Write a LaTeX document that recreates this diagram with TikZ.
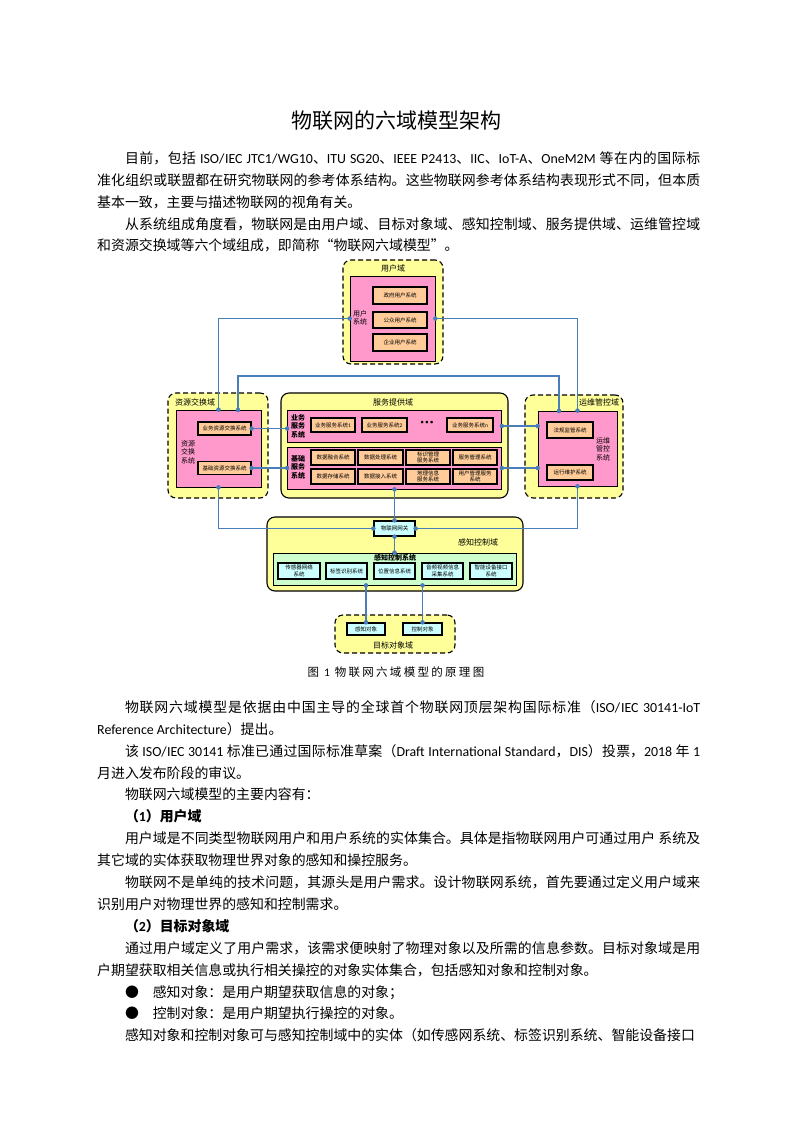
\documentclass[tikz,border=0pt]{standalone}
\usepackage{fontspec}
\setmainfont{Noto Sans CJK SC}
\newfontfamily\lat{Carlito}
\newfontfamily\capfont[LetterSpace=20]{Noto Sans CJK SC}
\XeTeXlinebreaklocale "zh"
\XeTeXlinebreakskip=0pt plus 1pt
\definecolor{domyellow}{HTML}{FFFF99}
\definecolor{syspink}{HTML}{FF99CC}
\definecolor{subpeach}{HTML}{FFCC99}
\definecolor{devcyan}{HTML}{CCFFFF}
\definecolor{senggreen}{HTML}{CCFFCC}
\definecolor{linkblue}{HTML}{4A7EBB}

\begin{document}
\begin{tikzpicture}[x=1pt,y=-1pt,
  every node/.style={inner sep=0pt},
  domzone/.style={draw, fill=domyellow, rounded corners=8pt, line width=1.1pt},
  domdash/.style={domzone, dash pattern=on 5pt off 3pt},
  sysbox/.style={draw, fill=syspink, line width=0.7pt},
  subbox/.style={draw, fill=subpeach, line width=1.3pt, align=center,
    font=\fontsize{5.5}{6.5}\selectfont},
  devbox/.style={subbox, fill=devcyan},
  domtitle/.style={font=\fontsize{8}{9}\selectfont},
  syslbl/.style={font=\fontsize{7}{8.5}\selectfont, align=center},
  bluelink/.style={draw=linkblue, line width=1.4pt},
  para/.style={anchor=base west, text width=603pt, align=justify,
    font=\fontsize{13.9}{21.9}\selectfont}]
  \fill[white] (0,0) rectangle (793,1122);
  \useasboundingbox (0,0) rectangle (793,1122);

  % page text
  \node[font=\fontsize{21}{24}\selectfont] (title) at (396,121) {物联网的六域模型架构};
  \node[para] (intro) at (97,163.3) {\hspace*{2em}目前，包括 {\lat ISO/IEC JTC1/WG10}、{\lat ITU SG20}、{\lat IEEE P2413}、{\lat IIC}、{\lat IoT-A}、{\lat OneM2M} 等在内的国际标\linebreak 准化组织或联盟都在研究物联网的参考体系结构。这些物联网参考体系结构表现形式不同，但本质\linebreak 基本一致，主要与描述物联网的视角有关。\par
\hspace*{2em}从系统组成角度看，物联网是由用户域、目标对象域、感知控制域、服务提供域、运维管控域\linebreak 和资源交换域等六个域组成，即简称“物联网六域模型”。};

  % user domain
  \node[domdash, minimum width=100pt, minimum height=104pt] (udom) at (393,312) {};
  \node[domtitle] (utitle) at (393,268) {用户域};
  \node[sysbox, minimum width=85pt, minimum height=85pt] (upink) at (392.5,318.5) {};
  \node[syslbl] (ulbl) at (360,318) {用户\\系统};
  \node[subbox, minimum width=54pt, minimum height=17pt] (u1) at (400,295.5) {政府用户系统};
  \node[subbox, minimum width=54pt, minimum height=16pt] (u2) at (400,320) {公众用户系统};
  \node[subbox, minimum width=54pt, minimum height=17pt] (u3) at (400,342.5) {企业用户系统};

  % resource exchange domain
  \node[domdash, minimum width=100pt, minimum height=105pt] (rdom) at (218,445.5) {};
  \node[domtitle] (rtitle) at (195,402) {资源交换域};
  \node[sysbox, minimum width=85pt, minimum height=77pt] (rpink) at (218.5,448.5) {};
  \node[syslbl] (rlbl) at (188,452) {资源\\交换\\系统};
  \node[subbox, minimum width=53pt, minimum height=13pt] (r1) at (224.5,428.5) {业务资源交换系统};
  \node[subbox, minimum width=53pt, minimum height=13pt] (r2) at (224.5,468) {基础资源交换系统};
  \coordinate (rtop) at (238,410);

  % service domain
  \node[domzone, minimum width=227pt, minimum height=105pt] (sdom) at (394.5,445.5) {};
  \node[domtitle] (stitle) at (393,402) {服务提供域};
  \node[sysbox, minimum width=214pt, minimum height=32pt] (spink1) at (394.5,426) {};
  \node[sysbox, minimum width=214pt, minimum height=42pt] (spink2) at (394.5,468) {};
  \node[syslbl, font=\fontsize{7}{8.5}\selectfont\bfseries] (s1lbl) at (298,426) {业务\\服务\\系统};
  \node[syslbl, font=\fontsize{7}{8.5}\selectfont\bfseries] (s2lbl) at (298,467) {基础\\服务\\系统};
  \node[subbox, minimum width=44pt, minimum height=14pt] (b1) at (333,425) {业务服务系统{\lat 1}};
  \node[subbox, minimum width=45pt, minimum height=14pt] (b2) at (384.5,425) {业务服务系统{\lat 2}};
  \node[font=\lat\fontsize{14}{14}\selectfont\bfseries] (bdots) at (427,424) {·\hspace{1pt}·\hspace{1pt}·};
  \node[subbox, minimum width=46pt, minimum height=14pt] (bn) at (470,425) {业务服务系统{\lat n}};
  \node[subbox, minimum width=44pt, minimum height=15pt] (c1) at (333,457.5) {数据融合系统};
  \node[subbox, minimum width=45pt, minimum height=15pt] (c2) at (380.5,457.5) {数据处理系统};
  \node[subbox, minimum width=44pt, minimum height=15pt] (c3) at (428,457.5) {标识管理\\服务系统};
  \node[subbox, minimum width=44pt, minimum height=15pt] (c4) at (475,457.5) {服务管理系统};
  \node[subbox, minimum width=44pt, minimum height=15pt] (c5) at (333,476.5) {数据存储系统};
  \node[subbox, minimum width=45pt, minimum height=15pt] (c6) at (380.5,476.5) {数据接入系统};
  \node[subbox, minimum width=44pt, minimum height=15pt] (c7) at (428,476.5) {地理信息\\服务系统};
  \node[subbox, minimum width=44pt, minimum height=15pt] (c8) at (475,476.5) {用户管理服务\\系统};

  % operation domain
  \node[domdash, minimum width=98pt, minimum height=103pt] (odom) at (574,446.5) {};
  \node[domtitle] (otitle) at (599,402) {运维管控域};
  \node[sysbox, minimum width=79pt, minimum height=75pt] (opink) at (577.5,448.5) {};
  \node[syslbl] (olbl) at (603,449) {运维\\管控\\系统};
  \node[subbox, minimum width=46pt, minimum height=16pt] (o1) at (570,430) {法规监管系统};
  \node[subbox, minimum width=46pt, minimum height=15pt] (o2) at (570,472.5) {运行维护系统};
  \coordinate (otop) at (559,411);

  % sensing and control domain
  \node[domzone, minimum width=256pt, minimum height=74pt] (kdom) at (395,554) {};
  \node[domtitle] (ktitle) at (478,542) {感知控制域};
  \node[devbox, minimum width=41pt, minimum height=15pt] (gw) at (394.5,528.5) {物联网网关};
  \node[draw, fill=senggreen, line width=0.8pt, minimum width=243pt, minimum height=32pt] (kbox) at (394.5,569) {};
  \node[syslbl, font=\fontsize{7}{8.5}\selectfont\bfseries] (klbl) at (395,558) {感知控制系统};
  \node[devbox, minimum width=42pt, minimum height=16pt] (k1) at (299,571) {传感器网络\\系统};
  \node[devbox, minimum width=41pt, minimum height=16pt] (k2) at (346.5,571) {标签识别系统};
  \node[devbox, minimum width=41pt, minimum height=16pt] (k3) at (394.5,571) {位置信息系统};
  \node[devbox, minimum width=41pt, minimum height=16pt] (k4) at (442.5,571) {音频视频信息\\采集系统};
  \node[devbox, minimum width=42pt, minimum height=16pt] (k5) at (491,571) {智能设备接口\\系统};

  % target domain
  \node[domdash, minimum width=120pt, minimum height=38pt] (tdom) at (395,634) {};
  \node[devbox, minimum width=38pt, minimum height=12pt] (t1) at (366,629) {感知对象};
  \node[devbox, minimum width=39pt, minimum height=12pt] (t2) at (422.5,629) {控制对象};
  \node[domtitle] (ttitle) at (393,645) {目标对象域};

  % connectors
  \draw[bluelink] (upink.west) -| (rpink.north);
  \draw[bluelink] (upink.east) -| (opink.north);
  \draw[bluelink] (rtop) -- ++(0,-34) -| (otop);
  \draw[bluelink] (r1.east) -- (r1.east -| spink1.west);
  \draw[bluelink] (r2.east) -- (r2.east -| spink2.west);
  \draw[bluelink] (spink1.east) -- (spink1.east -| opink.west);
  \draw[bluelink] (spink2.east) -- (spink2.east -| opink.west);
  \draw[bluelink] (rpink.south) |- (gw.west);
  \draw[bluelink] (opink.south) |- (gw.east);
  \draw[bluelink] (spink2.south) -- (gw.north);
  \draw[bluelink] (gw.south) -- (kbox.north);
  \draw[bluelink] (kbox.south -| t1.north) -- (t1.north);
  \draw[bluelink] (kbox.south -| t2.north) -- (t2.north);
  \foreach \p in {upink.west, upink.east, rpink.north, opink.north, rtop, otop,
      r1.east, r2.east, r1.east -| spink1.west, r2.east -| spink2.west,
      spink1.east, spink2.east, spink1.east -| opink.west, spink2.east -| opink.west,
      rpink.south, opink.south, spink2.south, gw.west, gw.east, gw.north, gw.south,
      kbox.north, kbox.south -| t1.north, kbox.south -| t2.north, t1.north, t2.north}
    \fill[linkblue] (\p) circle (2.3pt);

  \node[font=\capfont\fontsize{11.5}{12}\selectfont] (figcap) at (396,672) {图 {\lat 1} 物联网六域模型的原理图};

  \node[para] (body) at (97,712.3) {\hspace*{2em}物联网六域模型是依据由中国主导的全球首个物联网顶层架构国际标准（{\lat ISO/IEC 30141-IoT}\linebreak {\lat Reference Architecture}）提出。\par
\hspace*{2em}该 {\lat ISO/IEC 30141} 标准已通过国际标准草案（{\lat Draft International Standard}，{\lat DIS}）投票，{\lat 2018} 年 {\lat 1}\linebreak 月进入发布阶段的审议。\par
\hspace*{2em}物联网六域模型的主要内容有：\par
\hspace*{2em}\textbf{（{\lat 1}）用户域}\par
\hspace*{2em}用户域是不同类型物联网用户和用户系统的实体集合。具体是指物联网用户可通过用户 系统及\linebreak 其它域的实体获取物理世界对象的感知和操控服务。\par
\hspace*{2em}物联网不是单纯的技术问题，其源头是用户需求。设计物联网系统，首先要通过定义用户域来\linebreak 识别用户对物理世界的感知和控制需求。\par
\hspace*{2em}\textbf{（{\lat 2}）目标对象域}\par
\hspace*{2em}通过用户域定义了用户需求，该需求便映射了物理对象以及所需的信息参数。目标对象域是用\linebreak 户期望获取相关信息或执行相关操控的对象实体集合，包括感知对象和控制对象。\par
\hspace*{2em}●\hspace{1em}感知对象：是用户期望获取信息的对象；\par
\hspace*{2em}●\hspace{1em}控制对象：是用户期望执行操控的对象。\par
\parfillskip=0pt\hspace*{2em}感知对象和控制对象可与感知控制域中的实体（如传感网系统、标签识别系统、智能设备接口};
\end{tikzpicture}
\end{document}
